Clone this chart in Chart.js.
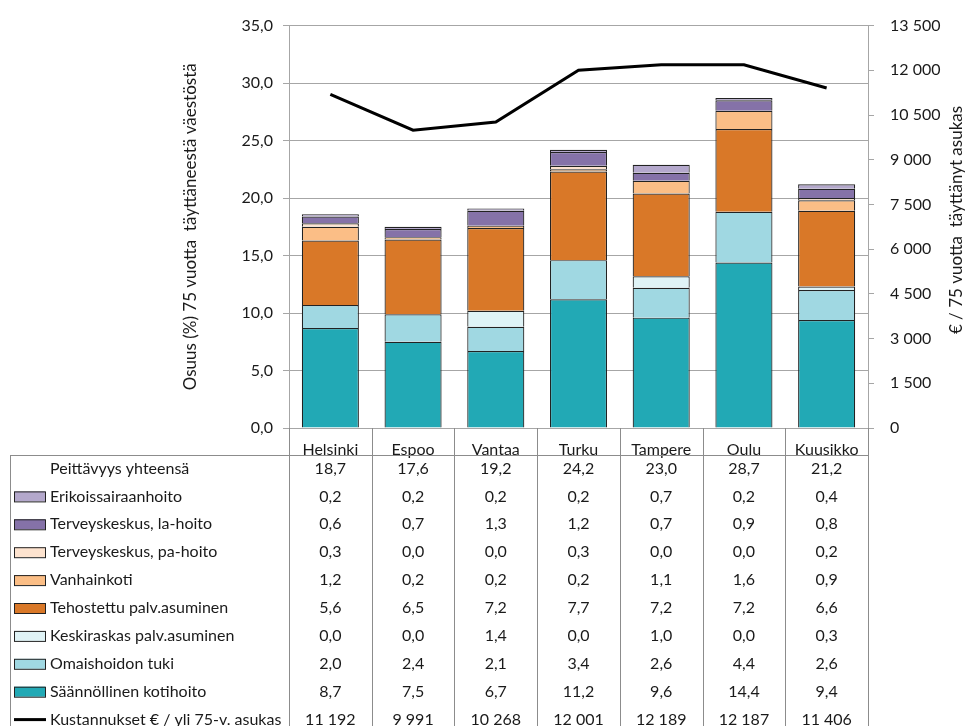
<!DOCTYPE html>
<html>
<head>
<meta charset="utf-8">
<script src="https://cdn.jsdelivr.net/npm/chart.js@4.4.1/dist/chart.umd.min.js"></script>
<style>
  body { margin: 0; background: #fff; }
</style>
</head>
<body>
<canvas id="chart" width="968" height="726"></canvas>
<script>
// Kunnat
const cities = ['Helsinki', 'Espoo', 'Vantaa', 'Turku', 'Tampere', 'Oulu', 'Kuusikko'];

// Palvelut (%) alhaalta ylös
const kotihoito     = [8.7, 7.5, 6.7, 11.2, 9.6, 14.4, 9.4];
const omaishoito    = [2.0, 2.4, 2.1, 3.4, 2.6, 4.4, 2.6];
const keskiraskas   = [0.0, 0.0, 1.4, 0.0, 1.0, 0.0, 0.3];
const tehostettu    = [5.6, 6.5, 7.2, 7.7, 7.2, 7.2, 6.6];
const vanhainkoti   = [1.2, 0.2, 0.2, 0.2, 1.1, 1.6, 0.9];
const tkPaHoito     = [0.3, 0.0, 0.0, 0.3, 0.0, 0.0, 0.2];
const tkLaHoito     = [0.6, 0.7, 1.3, 1.2, 0.7, 0.9, 0.8];
const erikoissairaanhoito = [0.2, 0.2, 0.2, 0.2, 0.7, 0.2, 0.4];

const peittavyys    = [18.7, 17.6, 19.2, 24.2, 23.0, 28.7, 21.2];
const kustannukset  = [11192, 9991, 10268, 12001, 12189, 12187, 11406];

const FONT = 'Lato';
const TEXT = '#1a1a1a';
const GRID = '#a6a6a6';
const RIGHT_TITLE = '€ / 75 vuotta  täyttänyt asukas';

function fmtDec(v) { return v.toFixed(1).replace('.', ','); }
function fmtInt(v) { return String(Math.round(v)).replace(/\B(?=(\d{3})+(?!\d))/g, ' '); }

const barSeries = [
    { label: 'Säännöllinen kotihoito', data: kotihoito, color: '#22a9b5' },
    { label: 'Omaishoidon tuki', data: omaishoito, color: '#a0d8e2' },
    { label: 'Keskiraskas palv.asuminen', data: keskiraskas, color: '#dff3f6' },
    { label: 'Tehostettu palv.asuminen', data: tehostettu, color: '#d97828' },
    { label: 'Vanhainkoti', data: vanhainkoti, color: '#fbbe86' },
    { label: 'Terveyskeskus, pa-hoito', data: tkPaHoito, color: '#fde3cf' },
    { label: 'Terveyskeskus, la-hoito', data: tkLaHoito, color: '#8572a8' },
    { label: 'Erikoissairaanhoito', data: erikoissairaanhoito, color: '#b4a8cc' }
];

// Taulukko kaavion alla + oikean akselin otsikko (luetaan alhaalta ylös)
const tablePlugin = {
    id: 'dataTable',
    afterDraw(chart) {
        const ctx = chart.ctx;
        const xs = chart.scales.x;
        const area = chart.chartArea;
        const n = cities.length;
        const edges = [area.left];
        for (let i = 1; i < n; i++) {
            edges.push((xs.getPixelForValue(i - 1) + xs.getPixelForValue(i)) / 2);
        }
        edges.push(area.right);

        const tableTop = 455;
        const bottom = chart.height + 5;

        ctx.save();
        ctx.strokeStyle = '#8c8c8c';
        ctx.lineWidth = 1;
        edges.forEach(e => {
            ctx.beginPath();
            ctx.moveTo(Math.round(e) + 0.5, area.bottom);
            ctx.lineTo(Math.round(e) + 0.5, bottom);
            ctx.stroke();
        });
        ctx.strokeRect(10.5, tableTop + 0.5, Math.round(area.right) - 10, bottom - tableTop);

        const rows = [
            { label: 'Peittävyys yhteensä', values: peittavyys.map(fmtDec), key: null },
            ...barSeries.slice().reverse().map(s => ({ label: s.label, values: s.data.map(fmtDec), key: s.color })),
            { label: 'Kustannukset € / yli 75-v. asukas', values: kustannukset.map(fmtInt), key: 'line' }
        ];

        ctx.font = '16px ' + FONT;
        ctx.fillStyle = TEXT;
        ctx.textBaseline = 'middle';
        rows.forEach((r, ri) => {
            const y = tableTop + 13.5 + ri * 27.9;
            if (r.key === 'line') {
                ctx.strokeStyle = '#000';
                ctx.lineWidth = 3;
                ctx.beginPath();
                ctx.moveTo(14, y);
                ctx.lineTo(46, y);
                ctx.stroke();
            } else if (r.key) {
                ctx.fillStyle = r.key;
                ctx.fillRect(14, y - 5, 31, 10);
                ctx.strokeStyle = '#222';
                ctx.lineWidth = 1;
                ctx.strokeRect(14.5, y - 5 + 0.5, 31, 10);
            }
            ctx.fillStyle = TEXT;
            ctx.textAlign = 'left';
            ctx.fillText(r.label, 50, y);
            ctx.textAlign = 'center';
            r.values.forEach((v, i) => {
                ctx.fillText(v, xs.getPixelForValue(i), y);
            });
        });

        // oikea otsikko
        ctx.translate(957, 220);
        ctx.rotate(-Math.PI / 2);
        ctx.font = '17px ' + FONT;
        ctx.textAlign = 'center';
        ctx.fillText(RIGHT_TITLE, 0, 0);
        ctx.restore();
    }
};

const datasets = barSeries.map(s => ({
    type: 'bar',
    label: s.label,
    data: s.data,
    backgroundColor: s.color,
    borderColor: '#222',
    borderWidth: 1.2,
    yAxisID: 'y',
    stack: 'palvelut',
    order: 1,
    categoryPercentage: 1,
    barPercentage: 0.69
}));

datasets.push({
    type: 'line',
    label: 'Kustannukset € / yli 75-v. asukas',
    data: kustannukset,
    borderColor: '#000',
    borderWidth: 3,
    pointRadius: 0,
    tension: 0,
    fill: false,
    yAxisID: 'y1',
    order: 0
});

new Chart(document.getElementById('chart'), {
    data: { labels: cities, datasets },
    plugins: [tablePlugin],
    options: {
        responsive: false,
        animation: false,
        layout: { padding: { left: 176, right: 2, top: 24, bottom: 0 } },
        plugins: {
            legend: { display: false },
            tooltip: { enabled: false }
        },
        scales: {
            x: {
                stacked: true,
                grid: { display: false },
                border: { display: false },
                ticks: {
                    color: TEXT,
                    font: { family: FONT, size: 16 },
                    padding: 4,
                    maxRotation: 0
                },
                afterFit(scale) { scale.height = 298; }
            },
            y: {
                stacked: true,
                position: 'left',
                min: 0,
                max: 35,
                ticks: {
                    stepSize: 5,
                    color: TEXT,
                    font: { family: FONT, size: 16 },
                    padding: 10,
                    callback: v => fmtDec(v)
                },
                grid: { color: GRID, tickLength: 6 },
                border: { color: GRID },
                title: {
                    display: true,
                    text: 'Osuus (%) 75 vuotta  täyttäneestä väestöstä',
                    color: TEXT,
                    font: { family: FONT, size: 17 },
                    padding: { top: 4, bottom: 4 }
                },
                afterFit(scale) { scale.width = 113; }
            },
            y1: {
                position: 'right',
                min: 0,
                max: 13500,
                ticks: {
                    stepSize: 1500,
                    color: TEXT,
                    font: { family: FONT, size: 16 },
                    padding: 16,
                    callback: v => fmtInt(v)
                },
                grid: { drawOnChartArea: false, color: GRID, tickLength: 6 },
                border: { color: GRID },
                afterFit(scale) { scale.width = 98; }
            }
        }
    }
});
</script>
</body>
</html>
